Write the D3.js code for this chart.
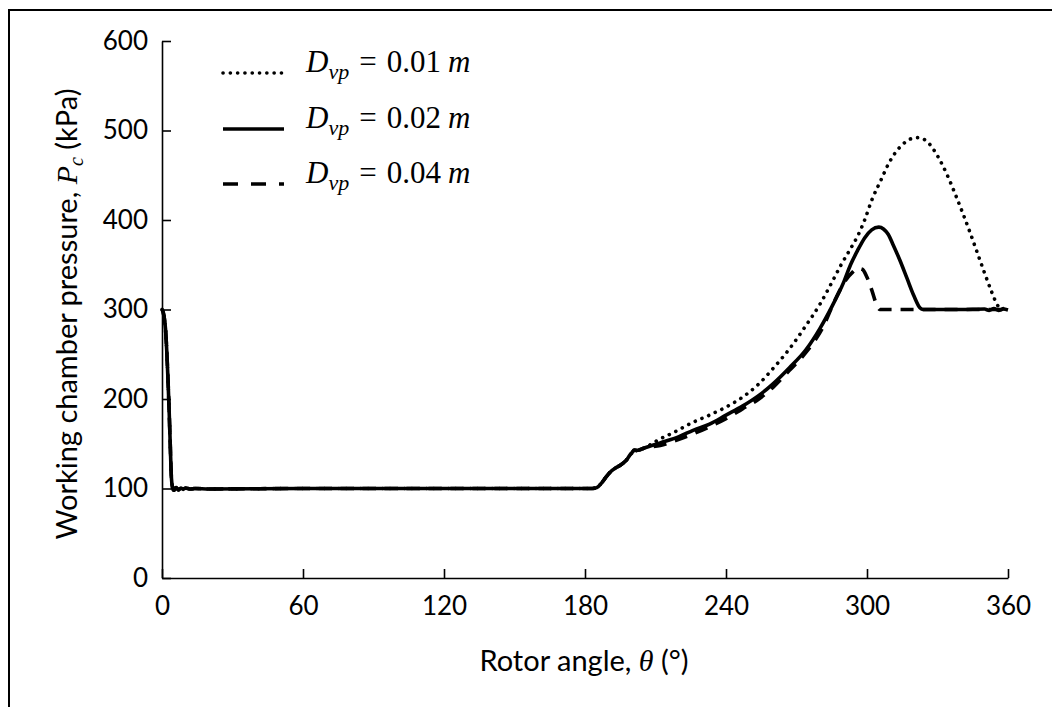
<!DOCTYPE html>
<html lang="en">
<head>
<meta charset="UTF-8">
<title>Working chamber pressure</title>
<style>
    body { margin:0; background:#fff; }
    svg text { fill:#000; }
</style>
</head>
<body>
<script src="https://cdn.jsdelivr.net/npm/d3@7"></script>
<script type="text/javascript">
    // common part of all three runs (suction, flat 100 kPa, start of compression)
    var thetaCommon = [0,0.5,1,1.5,2,2.5,3,3.5,4,4.5,5,6,7,8,9,10,12,14,20,60,120,180,183,185,187,189,191,193,195,196.5,198,199,200,201,202,203,205];
    var pCommon     = [300,297,290,278,255,225,190,150,112,101,98,101,98.5,100.5,99,100.5,99.5,100,99.5,100,100,100,100,101,106,113,119,123,126,129,133,137,140,143,142.5,143,145];

    // D_vp = 0.01 m
    var theta01 = [211,218,226,233,240,247,254,260,267,274,280,285,289,293,296,299,302,306,309,312,315,318,321.5,325,328,331,334,338,341,344,347,350,353,355.5,357,358,359,360];
    var p01     = [154,163,174,182,191,202,217,234,256,282,306,330,350,368,382,400,422,445,462,475,484,490,492,489,480,467,451,426,406,385,363,341,320,305,300,301,299,300];

    // D_vp = 0.02 m
    var theta02 = [212,220,226,233,240,247,254,260,267,274,280,285,290,293,296,299,302,305,307,309,311,314,317,320,322.5,324,330,340,350,352,354,356,358,360];
    var p02     = [151,158,165,172,182,192,204,217,235,255,279,303,330,350,366,380,389,392,390,384,373,355,335,315,302,300,300,300,300.5,299,301,299,300.5,299.5];

    // D_vp = 0.04 m
    var theta04 = [212,220,226,233,240,247,254,260,267,274,281,287,291,294,296,298,300,302,304,305.5,310,320,330,340,350,360];
    var p04     = [148,155,161,169,178,189,200,213,232,252,279,314,333,342,346,345,336,322,306,300,300,300,300,300,300,300];

    var xTicks = [0,60,120,180,240,300,360];
    var yTicks = [0,100,200,300,400,500,600];
    var legendValues = ["0.01","0.02","0.04"];

    var w = 1052, h = 707;
    var svg = d3.select("body").append("svg").attr("width",w).attr("height",h);

    // outer frame (cropped at right / bottom)
    svg.append("rect").attr("x",9).attr("y",10).attr("width",1100).attr("height",760)
        .attr("fill","none").attr("stroke","#000").attr("stroke-width",2);

    var x = d3.scaleLinear().domain([0,360]).range([162,1008]);
    var y = d3.scaleLinear().domain([0,600]).range([578,41]);

    // axes with inward ticks
    var xAxis = d3.axisBottom(x).tickValues(xTicks).tickSize(-9).tickPadding(19).tickSizeOuter(0);
    var yAxis = d3.axisLeft(y).tickValues(yTicks).tickSize(-9).tickPadding(14).tickSizeOuter(0);

    var gx = svg.append("g").attr("transform","translate(0,578)").call(xAxis);
    var gy = svg.append("g").attr("transform","translate(162,0)").call(yAxis);
    [gx,gy].forEach(function (g) {
        g.select(".domain").attr("stroke","#000").attr("stroke-width",1.6);
        g.selectAll(".tick line").attr("stroke","#000").attr("stroke-width",1.6);
        g.selectAll(".tick text").attr("font-family","Lato").attr("font-size",26).attr("fill","#000");
    });
    gx.selectAll(".tick text").attr("dy","0.71em");

    // series
    function pts(tx, px) {
        return tx.map(function (t,i) { return [t, px[i]]; });
    }
    var common = pts(thetaCommon, pCommon);
    var series = [
        {name:"0.01", data: common.concat(pts(theta01,p01)), dash:"0.1 7.2", cap:"round", width:3.6},
        {name:"0.04", data: common.concat(pts(theta04,p04)), dash:"13 9", cap:"butt", width:3.6},
        {name:"0.02", data: common.concat(pts(theta02,p02)), dash:null, cap:"butt", width:3.6}
    ];
    var line = d3.line()
        .x(function (d) { return x(d[0]); })
        .y(function (d) { return y(d[1]); })
        .curve(d3.curveMonotoneX);

    svg.selectAll("path.series").data(series).enter()
        .append("path")
        .attr("class","series")
        .attr("fill","none")
        .attr("stroke","#000")
        .attr("stroke-width",function (d) { return d.width; })
        .attr("stroke-linecap",function (d) { return d.cap; })
        .attr("stroke-linejoin","round")
        .attr("stroke-dasharray",function (d) { return d.dash; })
        .attr("d",function (d) { return line(d.data); });

    // legend
    var legendStyles = [
        {dash:"0.1 7.2", cap:"round"},
        {dash:null, cap:"butt"},
        {dash:"15 13", cap:"butt"}
    ];
    var legendY = [73,129,184];
    var lg = svg.selectAll("g.legend").data(legendValues).enter()
        .append("g").attr("class","legend")
        .attr("transform",function (d,i) { return "translate(0,"+legendY[i]+")"; });
    lg.append("line")
        .attr("x1",223).attr("x2",284).attr("y1",0).attr("y2",0)
        .attr("stroke","#000").attr("stroke-width",3.6)
        .attr("stroke-linecap",function (d,i) { return legendStyles[i].cap; })
        .attr("stroke-dasharray",function (d,i) { return legendStyles[i].dash; });
    var lt = lg.append("text").attr("x",306).attr("y",-1)
        .attr("font-family","Liberation Serif").attr("font-size",31);
    lt.append("tspan").attr("font-style","italic").text("D");
    lt.append("tspan").attr("font-style","italic").attr("font-size",22).attr("dy",7).text("vp");
    lt.append("tspan").attr("dy",-7).attr("dx",10).text("=");
    lt.append("tspan").attr("dx",10).text(function (d) { return d; });
    lt.append("tspan").attr("dx",7).attr("font-style","italic").text("m");

    // axis titles
    var xt = svg.append("text").attr("x",584).attr("y",671).attr("text-anchor","middle")
        .attr("font-family","Lato").attr("font-size",29);
    xt.append("tspan").text("Rotor angle, ");
    xt.append("tspan").attr("font-family","Liberation Serif").attr("font-style","italic").attr("font-size",30).text("θ");
    xt.append("tspan").text(" (°)");

    var yt = svg.append("text").attr("transform","translate(77,314) rotate(-90)").attr("text-anchor","middle")
        .attr("font-family","Lato").attr("font-size",29);
    yt.append("tspan").text("Working chamber pressure, ");
    yt.append("tspan").attr("font-family","Liberation Serif").attr("font-style","italic").attr("font-size",30).text("P");
    yt.append("tspan").attr("font-family","Liberation Serif").attr("font-style","italic").attr("font-size",20).attr("dy",6).text("c");
    yt.append("tspan").attr("dy",-6).text(" (kPa)");
</script>
</body>
</html>
